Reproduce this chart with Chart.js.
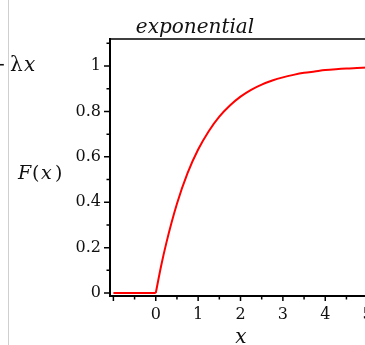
<!DOCTYPE html>
<html>
<head>
<meta charset="utf-8">
<script src="https://cdn.jsdelivr.net/npm/chart.js@4"></script>
<style>
  html, body { margin: 0; padding: 0; background: #fff; overflow: hidden; }
  #wrap { width: 365px; height: 345px; overflow: hidden; }
</style>
</head>
<body>
<div id="wrap"><canvas id="cdf" width="430" height="345"></canvas></div>
<script>
// data
const flatX = [-1, 0];
const flatY = [0, 0];
const curveX = [0, 0.125, 0.25, 0.5, 0.75, 1, 1.25, 1.5, 1.75, 2, 2.25, 2.5, 2.75, 3, 3.25, 3.5, 3.75, 4, 4.25, 4.5, 4.75, 5, 5.25, 5.5, 5.75, 6];
const curveY = [0, 0.118, 0.221, 0.393, 0.528, 0.632, 0.713, 0.777, 0.826, 0.865, 0.895, 0.918, 0.936, 0.950, 0.961, 0.970, 0.976, 0.982, 0.986, 0.989, 0.991, 0.993, 0.995, 0.996, 0.997, 0.998];

const xTicks = [-1, -0.5, 0, 0.5, 1, 1.5, 2, 2.5, 3, 3.5, 4, 4.5, 5, 5.5, 6];
const xLabels = [0, 1, 2, 3, 4, 5];
const yTicks = [0, 0.1, 0.2, 0.3, 0.4, 0.5, 0.6, 0.7, 0.8, 0.9, 1, 1.1];
const yLabels = [0, 0.2, 0.4, 0.6, 0.8, 1];

const serif = '"DejaVu Serif", "Liberation Serif", serif';

const toPoints = (xs, ys) => xs.map((x, i) => ({x: x, y: ys[i]}));
const isIn = (list, v) => list.some(l => Math.abs(l - v) < 1e-9);

// box, tick marks and loose text
const decor = {
  id: 'decor',
  afterDraw(chart) {
    const ctx = chart.ctx;
    const a = chart.chartArea;
    const xs = chart.scales.x;
    const ys = chart.scales.y;
    ctx.save();

    // page edge line
    ctx.strokeStyle = '#cfcfcf';
    ctx.lineWidth = 1;
    ctx.beginPath();
    ctx.moveTo(8.5, 0);
    ctx.lineTo(8.5, 345);
    ctx.stroke();

    // top + right border of the box
    ctx.strokeStyle = '#000';
    ctx.lineWidth = 1.5;
    ctx.beginPath();
    ctx.moveTo(a.left, a.top);
    ctx.lineTo(a.right, a.top);
    ctx.lineTo(a.right, a.bottom);
    ctx.stroke();

    // tick marks
    ctx.lineWidth = 1.5;
    ctx.beginPath();
    yTicks.forEach(v => {
      const py = ys.getPixelForValue(v);
      const len = isIn(yLabels, v) ? 6 : 3.5;
      ctx.moveTo(a.left, py);
      ctx.lineTo(a.left - len, py);
    });
    xTicks.forEach(v => {
      const px = xs.getPixelForValue(v);
      const len = Number.isInteger(v) ? 5 : 3.5;
      ctx.moveTo(px, a.bottom);
      ctx.lineTo(px, a.bottom + len);
    });
    ctx.stroke();

    // texts
    ctx.fillStyle = '#111';
    ctx.textBaseline = 'alphabetic';
    ctx.textAlign = 'center';
    ctx.font = 'italic 20px ' + serif;
    ctx.fillText('exponential', 195, 33);

    ctx.font = 'italic 20px ' + serif;
    ctx.fillText('x', 241, 343);

    ctx.textAlign = 'left';
    ctx.font = 'italic 19px ' + serif;
    ctx.fillText('F', 18, 179);
    ctx.font = '19px ' + serif;
    ctx.fillText('(', 32, 179);
    ctx.font = 'italic 19px ' + serif;
    ctx.fillText('x', 41, 179);
    ctx.font = '19px ' + serif;
    ctx.fillText(')', 55, 179);

    // cut-off expression at the left edge
    ctx.font = '20px ' + serif;
    ctx.textAlign = 'right';
    ctx.fillText('\u2212', 6, 71);
    ctx.textAlign = 'left';
    ctx.fillText('\u03bb', 10, 71);
    ctx.font = 'italic 20px ' + serif;
    ctx.fillText('x', 24, 71);

    ctx.restore();
  }
};

const cdfChart = new Chart(document.getElementById('cdf'), {
  type: 'line',
  data: {
    datasets: [
      {
        data: toPoints(flatX, flatY),
        borderColor: '#ff0000',
        borderWidth: 2,
        pointRadius: 0,
        tension: 0,
      },
      {
        data: toPoints(curveX, curveY),
        borderColor: '#ff0000',
        borderWidth: 2,
        pointRadius: 0,
        cubicInterpolationMode: 'monotone',
      },
    ]
  },
  options: {
    responsive: false,
    animation: false,
    devicePixelRatio: 1,
    layout: { padding: { left: 0, top: 39, right: 20, bottom: 0 } },
    plugins: { legend: { display: false }, tooltip: { enabled: false } },
    scales: {
      x: {
        type: 'linear',
        min: -1.08,
        max: 6,
        afterFit: s => { s.height = 49; },
        afterBuildTicks: s => { s.ticks = xTicks.map(v => ({value: v})); },
        grid: { drawOnChartArea: false, drawTicks: false },
        border: { display: true, color: '#000', width: 2 },
        ticks: {
          autoSkip: false,
          maxRotation: 0,
          padding: 9,
          color: '#111',
          font: { family: serif, size: 16 },
          callback: v => isIn(xLabels, v) ? String(Math.round(v)) : ''
        }
      },
      y: {
        type: 'linear',
        min: -0.013,
        max: 1.119,
        afterFit: s => { s.width = 110; },
        afterBuildTicks: s => { s.ticks = yTicks.map(v => ({value: v})); },
        grid: { drawOnChartArea: false, drawTicks: false },
        border: { display: true, color: '#000', width: 2 },
        ticks: {
          autoSkip: false,
          padding: 9,
          color: '#111',
          font: { family: serif, size: 16 },
          callback: v => isIn(yLabels, v) ? String(Math.round(v * 10) / 10) : ''
        }
      }
    }
  },
  plugins: [decor]
});
</script>
</body>
</html>
